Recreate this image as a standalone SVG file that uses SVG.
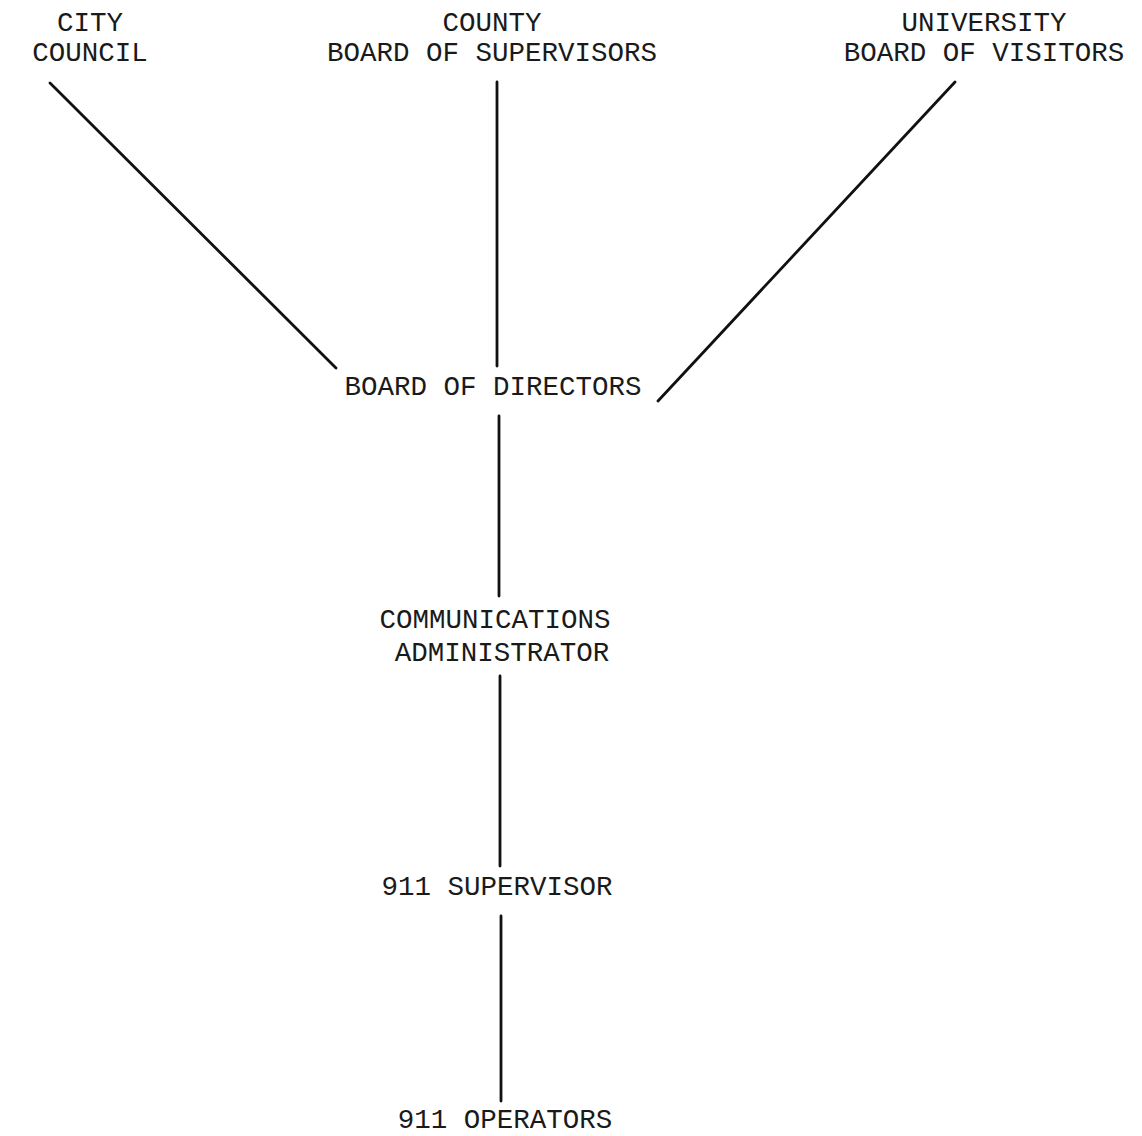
<svg xmlns="http://www.w3.org/2000/svg" width="1142" height="1136" viewBox="0 0 1142 1136">
<style>
text{font-family:"Liberation Mono","Courier New",monospace;font-size:27.5px;fill:#1a1a1a;text-anchor:middle}
.c{stroke:#111;stroke-width:2.8;fill:none;stroke-linecap:round}
</style>
<rect width="1142" height="1136" fill="#fff"/>
<g id="connectors">
<line class="c" x1="50" y1="83" x2="336" y2="368"/>
<line class="c" x1="497" y1="82" x2="497" y2="366"/>
<line class="c" x1="955" y1="82" x2="658" y2="401"/>
<line class="c" x1="499" y1="416" x2="499" y2="596"/>
<line class="c" x1="500" y1="676" x2="500" y2="866"/>
<line class="c" x1="501" y1="916" x2="501" y2="1101"/>
</g>
<g id="city"><text x="90" y="31">CITY</text><text x="90" y="61">COUNCIL</text></g>
<g id="county"><text x="492" y="31">COUNTY</text><text x="492" y="61">BOARD OF SUPERVISORS</text></g>
<g id="university"><text x="984" y="31">UNIVERSITY</text><text x="984" y="61">BOARD OF VISITORS</text></g>
<g id="board"><text x="493" y="395">BOARD OF DIRECTORS</text></g>
<g id="admin"><text x="495" y="628">COMMUNICATIONS</text><text x="502" y="661">ADMINISTRATOR</text></g>
<g id="sup"><text x="497" y="895">911 SUPERVISOR</text></g>
<g id="ops"><text x="505" y="1128">911 OPERATORS</text></g>
</svg>
